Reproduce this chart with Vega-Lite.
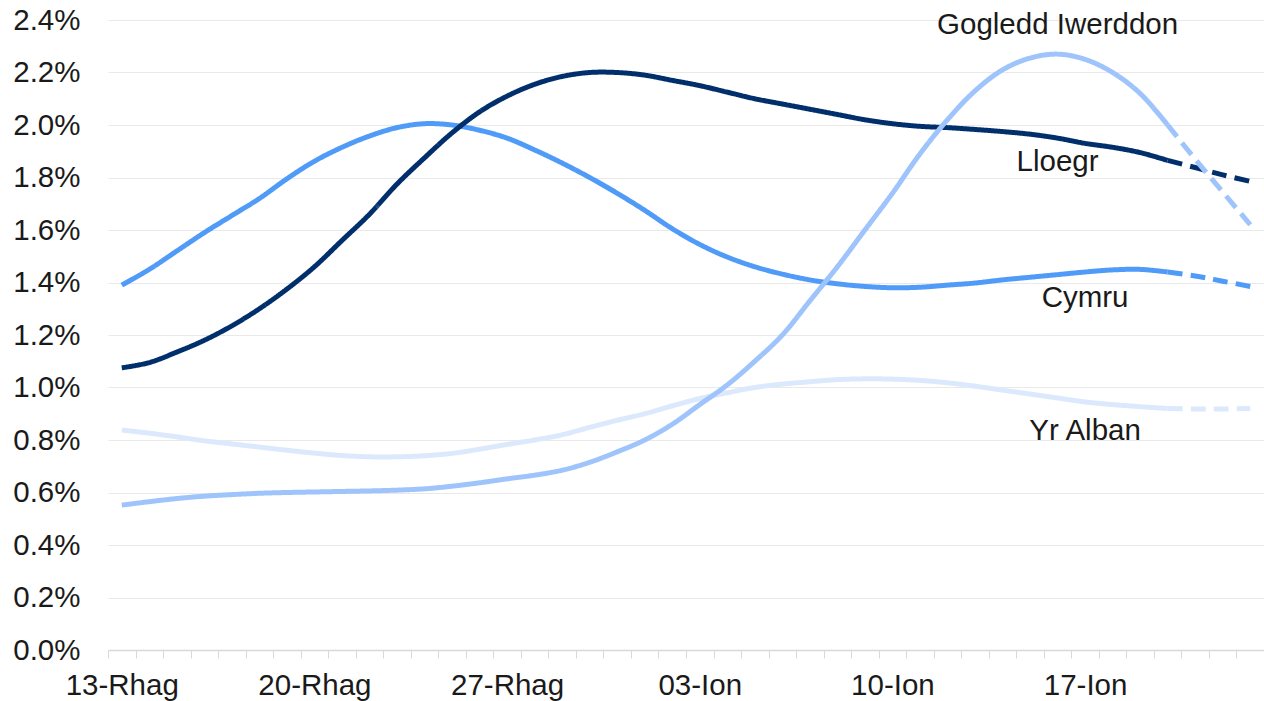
{
  "$schema": "https://vega.github.io/schema/vega-lite/v6.json",
  "width": 1156,
  "height": 630,
  "autosize": "none",
  "padding": {"left": 108, "top": 20, "right": 0, "bottom": 51},
  "background": "white",
  "config": {
    "view": {"stroke": null},
    "font": "Liberation Sans",
    "axis": {"labelFont": "Liberation Sans", "labelColor": "#1a1a1a", "titleFont": "Liberation Sans"}
  },
  "datasets": {
    "series": [
      {"d": "13-Rhag", "seg": "a", "Lloegr": 1.075, "Cymru": 1.39, "Gogledd Iwerddon": 0.552, "Yr Alban": 0.838},
      {"d": "14-Rhag", "seg": "a", "Lloegr": 1.095, "Cymru": 1.45, "Gogledd Iwerddon": 0.565, "Yr Alban": 0.826},
      {"d": "15-Rhag", "seg": "a", "Lloegr": 1.135, "Cymru": 1.52, "Gogledd Iwerddon": 0.577, "Yr Alban": 0.812},
      {"d": "16-Rhag", "seg": "a", "Lloegr": 1.18, "Cymru": 1.59, "Gogledd Iwerddon": 0.586, "Yr Alban": 0.797},
      {"d": "17-Rhag", "seg": "a", "Lloegr": 1.235, "Cymru": 1.655, "Gogledd Iwerddon": 0.592, "Yr Alban": 0.785},
      {"d": "18-Rhag", "seg": "a", "Lloegr": 1.30, "Cymru": 1.72, "Gogledd Iwerddon": 0.597, "Yr Alban": 0.773},
      {"d": "19-Rhag", "seg": "a", "Lloegr": 1.375, "Cymru": 1.795, "Gogledd Iwerddon": 0.600, "Yr Alban": 0.761},
      {"d": "20-Rhag", "seg": "a", "Lloegr": 1.46, "Cymru": 1.862, "Gogledd Iwerddon": 0.602, "Yr Alban": 0.750},
      {"d": "21-Rhag", "seg": "a", "Lloegr": 1.56, "Cymru": 1.915, "Gogledd Iwerddon": 0.604, "Yr Alban": 0.741},
      {"d": "22-Rhag", "seg": "a", "Lloegr": 1.66, "Cymru": 1.958, "Gogledd Iwerddon": 0.606, "Yr Alban": 0.736},
      {"d": "23-Rhag", "seg": "a", "Lloegr": 1.775, "Cymru": 1.99, "Gogledd Iwerddon": 0.609, "Yr Alban": 0.736},
      {"d": "24-Rhag", "seg": "a", "Lloegr": 1.875, "Cymru": 2.005, "Gogledd Iwerddon": 0.614, "Yr Alban": 0.740},
      {"d": "25-Rhag", "seg": "a", "Lloegr": 1.97, "Cymru": 2.0, "Gogledd Iwerddon": 0.624, "Yr Alban": 0.749},
      {"d": "26-Rhag", "seg": "a", "Lloegr": 2.05, "Cymru": 1.98, "Gogledd Iwerddon": 0.637, "Yr Alban": 0.765},
      {"d": "27-Rhag", "seg": "a", "Lloegr": 2.11, "Cymru": 1.95, "Gogledd Iwerddon": 0.652, "Yr Alban": 0.783},
      {"d": "28-Rhag", "seg": "a", "Lloegr": 2.155, "Cymru": 1.905, "Gogledd Iwerddon": 0.666, "Yr Alban": 0.800},
      {"d": "29-Rhag", "seg": "a", "Lloegr": 2.185, "Cymru": 1.855, "Gogledd Iwerddon": 0.685, "Yr Alban": 0.820},
      {"d": "30-Rhag", "seg": "a", "Lloegr": 2.20, "Cymru": 1.80, "Gogledd Iwerddon": 0.715, "Yr Alban": 0.848},
      {"d": "31-Rhag", "seg": "a", "Lloegr": 2.20, "Cymru": 1.74, "Gogledd Iwerddon": 0.755, "Yr Alban": 0.875},
      {"d": "01-Ion", "seg": "a", "Lloegr": 2.19, "Cymru": 1.675, "Gogledd Iwerddon": 0.80, "Yr Alban": 0.90},
      {"d": "02-Ion", "seg": "a", "Lloegr": 2.17, "Cymru": 1.605, "Gogledd Iwerddon": 0.86, "Yr Alban": 0.93},
      {"d": "03-Ion", "seg": "a", "Lloegr": 2.15, "Cymru": 1.545, "Gogledd Iwerddon": 0.935, "Yr Alban": 0.958},
      {"d": "04-Ion", "seg": "a", "Lloegr": 2.125, "Cymru": 1.497, "Gogledd Iwerddon": 1.01, "Yr Alban": 0.98},
      {"d": "05-Ion", "seg": "a", "Lloegr": 2.10, "Cymru": 1.46, "Gogledd Iwerddon": 1.10, "Yr Alban": 1.0},
      {"d": "06-Ion", "seg": "a", "Lloegr": 2.08, "Cymru": 1.432, "Gogledd Iwerddon": 1.20, "Yr Alban": 1.013},
      {"d": "07-Ion", "seg": "a", "Lloegr": 2.06, "Cymru": 1.41, "Gogledd Iwerddon": 1.33, "Yr Alban": 1.022},
      {"d": "08-Ion", "seg": "a", "Lloegr": 2.04, "Cymru": 1.395, "Gogledd Iwerddon": 1.46, "Yr Alban": 1.03},
      {"d": "09-Ion", "seg": "a", "Lloegr": 2.02, "Cymru": 1.385, "Gogledd Iwerddon": 1.60, "Yr Alban": 1.033},
      {"d": "10-Ion", "seg": "a", "Lloegr": 2.005, "Cymru": 1.38, "Gogledd Iwerddon": 1.74, "Yr Alban": 1.032},
      {"d": "11-Ion", "seg": "a", "Lloegr": 1.995, "Cymru": 1.382, "Gogledd Iwerddon": 1.89, "Yr Alban": 1.027},
      {"d": "12-Ion", "seg": "a", "Lloegr": 1.99, "Cymru": 1.39, "Gogledd Iwerddon": 2.02, "Yr Alban": 1.018},
      {"d": "13-Ion", "seg": "a", "Lloegr": 1.983, "Cymru": 1.398, "Gogledd Iwerddon": 2.13, "Yr Alban": 1.005},
      {"d": "14-Ion", "seg": "a", "Lloegr": 1.975, "Cymru": 1.41, "Gogledd Iwerddon": 2.21, "Yr Alban": 0.99},
      {"d": "15-Ion", "seg": "a", "Lloegr": 1.965, "Cymru": 1.42, "Gogledd Iwerddon": 2.255, "Yr Alban": 0.975},
      {"d": "16-Ion", "seg": "a", "Lloegr": 1.95, "Cymru": 1.43, "Gogledd Iwerddon": 2.27, "Yr Alban": 0.96},
      {"d": "17-Ion", "seg": "a", "Lloegr": 1.93, "Cymru": 1.44, "Gogledd Iwerddon": 2.25, "Yr Alban": 0.945},
      {"d": "18-Ion", "seg": "a", "Lloegr": 1.915, "Cymru": 1.448, "Gogledd Iwerddon": 2.20, "Yr Alban": 0.935},
      {"d": "19-Ion", "seg": "a", "Lloegr": 1.895, "Cymru": 1.45, "Gogledd Iwerddon": 2.12, "Yr Alban": 0.927},
      {"d": "20-Ion", "seg": "a", "Lloegr": 1.865, "Cymru": 1.44, "Gogledd Iwerddon": 2.0, "Yr Alban": 0.92},
      {"d": "20-Ion", "seg": "b", "Lloegr": 1.865, "Cymru": 1.44, "Gogledd Iwerddon": 2.0, "Yr Alban": 0.92},
      {"d": "21-Ion", "seg": "b", "Lloegr": 1.838, "Cymru": 1.425, "Gogledd Iwerddon": 1.87, "Yr Alban": 0.918},
      {"d": "22-Ion", "seg": "b", "Lloegr": 1.81, "Cymru": 1.405, "Gogledd Iwerddon": 1.745, "Yr Alban": 0.918},
      {"d": "23-Ion", "seg": "b", "Lloegr": 1.785, "Cymru": 1.385, "Gogledd Iwerddon": 1.62, "Yr Alban": 0.92}
    ],
    "labels": [
      {"d": "16-Ion", "v": 2.38, "t": "Gogledd Iwerddon"},
      {"d": "16-Ion", "v": 1.86, "t": "Lloegr"},
      {"d": "17-Ion", "v": 1.342, "t": "Cymru"},
      {"d": "17-Ion", "v": 0.834, "t": "Yr Alban"}
    ]
  },
  "layer": [
    {
      "data": {"name": "series"},
      "transform": [
        {"fold": ["Yr Alban", "Cymru", "Lloegr", "Gogledd Iwerddon"], "as": ["gwlad", "v"]}
      ],
      "mark": {"type": "line", "interpolate": "catmull-rom", "strokeWidth": 5, "strokeCap": "butt", "strokeJoin": "round"},
      "encoding": {
        "x": {
          "field": "d", "type": "ordinal", "sort": null,
          "scale": {
            "type": "band", "paddingInner": 0, "paddingOuter": 0,
            "domain": ["13-Rhag","14-Rhag","15-Rhag","16-Rhag","17-Rhag","18-Rhag","19-Rhag","20-Rhag","21-Rhag","22-Rhag","23-Rhag","24-Rhag","25-Rhag","26-Rhag","27-Rhag","28-Rhag","29-Rhag","30-Rhag","31-Rhag","01-Ion","02-Ion","03-Ion","04-Ion","05-Ion","06-Ion","07-Ion","08-Ion","09-Ion","10-Ion","11-Ion","12-Ion","13-Ion","14-Ion","15-Ion","16-Ion","17-Ion","18-Ion","19-Ion","20-Ion","21-Ion","22-Ion","23-Ion"]
          },
          "axis": {
            "title": null, "labelAngle": 0, "labelOverlap": false, "labelBound": false,
            "labelExpr": "indexof(['13-Rhag','20-Rhag','27-Rhag','03-Ion','10-Ion','17-Ion'], datum.value) >= 0 ? datum.value : ''",
            "labelFontSize": 29.5, "labelPadding": 13, "labelBaseline": "top",
            "tickBand": "extent", "tickSize": 8, "tickColor": "#d9d9d9", "tickWidth": 1,
            "domainColor": "#d9d9d9", "domainWidth": 1.5, "grid": false
          }
        },
        "y": {
          "field": "v", "type": "quantitative",
          "scale": {"domain": [0, 2.4], "nice": false, "zero": true},
          "axis": {
            "title": null, "values": [0, 0.2, 0.4, 0.6, 0.8, 1.0, 1.2, 1.4, 1.6, 1.8, 2.0, 2.2, 2.4],
            "labelExpr": "format(datum.value, '.1f') + '%'",
            "labelFontSize": 29.5, "labelPadding": 28, "ticks": false, "tickSize": 0, "domain": false,
            "grid": true, "gridColor": "#e9e9e9", "gridWidth": 1.2
          }
        },
        "color": {
          "field": "gwlad", "type": "nominal", "legend": null,
          "scale": {"domain": ["Lloegr", "Cymru", "Gogledd Iwerddon", "Yr Alban"], "range": ["#002F6C", "#4F9BF7", "#9EC4FB", "#DCE9FD"]}
        },
        "strokeDash": {
          "field": "seg", "type": "nominal", "legend": null,
          "scale": {"domain": ["a", "b"], "range": [[1, 0], [15, 8]]}
        },
        "detail": {"field": "seg"}
      }
    },
    {
      "data": {"name": "labels"},
      "mark": {"type": "text", "fontSize": 29.5, "font": "Liberation Sans", "color": "#1a1a1a", "align": "center", "baseline": "middle"},
      "encoding": {
        "x": {"field": "d", "type": "ordinal", "sort": null},
        "y": {"field": "v", "type": "quantitative"},
        "text": {"field": "t"}
      }
    }
  ]
}
